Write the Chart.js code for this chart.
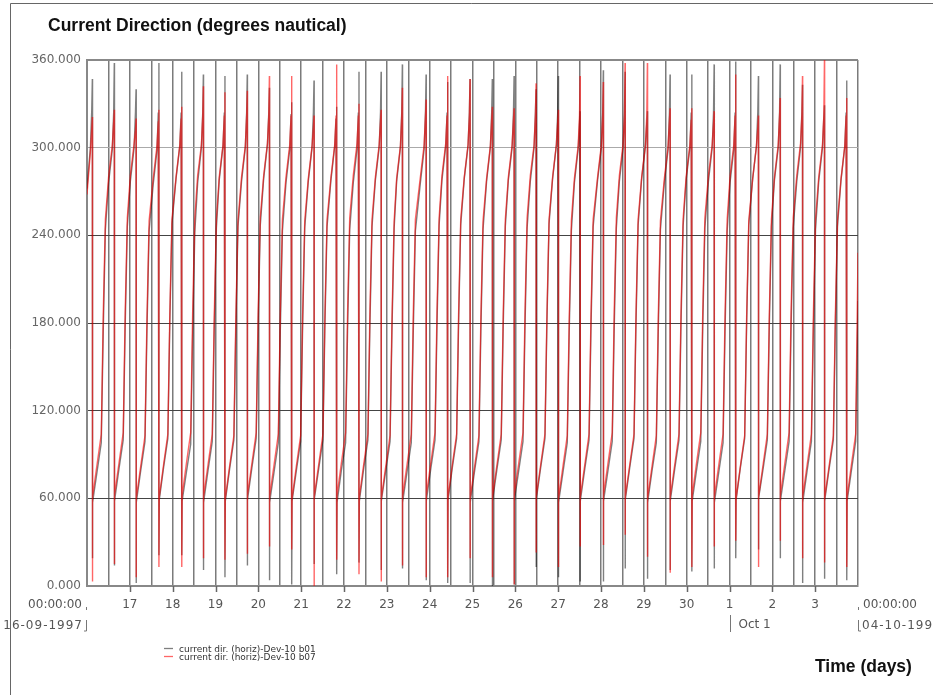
<!DOCTYPE html>
<html>
<head>
<meta charset="utf-8">
<script src="https://cdn.jsdelivr.net/npm/chart.js@4.4.1/dist/chart.umd.min.js"></script>
<style>
  body { margin: 0; background: #fff; }
  canvas { display: block; }
</style>
</head>
<body>
<canvas id="dirChart" width="933" height="695"></canvas>
<script>
// hours since 16-09-1997 00:00:00, one row per tidal cycle (wrap 360 -> 0 at row start)
const hours = [
  0, 1.9, 2.65, 3.0,
  3.0, 3.2, 5.6, 8.0, 9.1, 10.3, 12.1, 14.2, 14.95, 15.3,
  15.3, 15.5, 17.9, 20.3, 21.4, 22.6, 24.3, 26.4, 27.15, 27.5,
  27.5, 27.7, 30.1, 32.5, 33.6, 34.8, 37.1, 39.2, 39.95, 40.3,
  40.3, 40.5, 42.9, 45.3, 46.4, 47.6, 49.9, 52.0, 52.75, 53.1,
  53.1, 53.3, 55.7, 58.1, 59.2, 60.4, 62.0, 64.1, 64.85, 65.2,
  65.2, 65.4, 67.8, 70.2, 71.3, 72.5, 74.1, 76.2, 76.95, 77.3,
  77.3, 77.5, 79.9, 82.3, 83.4, 84.6, 86.6, 88.7, 89.45, 89.8,
  89.8, 90.0, 92.4, 94.8, 95.9, 97.1, 99.0, 101.1, 101.85, 102.2,
  102.2, 102.4, 104.8, 107.2, 108.3, 109.5, 111.5, 113.6, 114.35, 114.7,
  114.7, 114.9, 117.3, 119.7, 120.8, 122.0, 124.0, 126.1, 126.85, 127.2,
  127.2, 127.4, 129.8, 132.2, 133.3, 134.5, 136.7, 138.8, 139.55, 139.9,
  139.9, 140.1, 142.5, 144.9, 146.0, 147.2, 149.2, 151.3, 152.05, 152.4,
  152.4, 152.6, 155.0, 157.4, 158.5, 159.7, 161.6, 163.7, 164.45, 164.8,
  164.8, 165.0, 167.4, 169.8, 170.9, 172.1, 173.5, 175.6, 176.35, 176.7,
  176.7, 176.9, 179.3, 181.7, 182.8, 184.0, 186.8, 188.9, 189.65, 190.0,
  190.0, 190.2, 192.6, 195.0, 196.1, 197.3, 198.9, 201.0, 201.75, 202.1,
  202.1, 202.3, 204.7, 207.1, 208.2, 209.4, 211.4, 213.5, 214.25, 214.6,
  214.6, 214.8, 217.2, 219.6, 220.7, 221.9, 223.9, 226.0, 226.75, 227.1,
  227.1, 227.3, 229.7, 232.1, 233.2, 234.4, 236.1, 238.2, 238.95, 239.3,
  239.3, 239.5, 241.9, 244.3, 245.4, 246.6, 248.4, 250.5, 251.25, 251.6,
  251.6, 251.8, 254.2, 256.6, 257.7, 258.9, 260.9, 263.0, 263.75, 264.1,
  264.1, 264.3, 266.7, 269.1, 270.2, 271.4, 273.1, 275.2, 275.95, 276.3,
  276.3, 276.5, 278.9, 281.3, 282.4, 283.6, 286.1, 288.2, 288.95, 289.3,
  289.3, 289.5, 291.9, 294.3, 295.4, 296.6, 298.3, 300.4, 301.15, 301.5,
  301.5, 301.7, 304.1, 306.5, 307.6, 308.8, 310.8, 312.9, 313.65, 314.0,
  314.0, 314.2, 316.6, 319.0, 320.1, 321.3, 323.5, 325.6, 326.35, 326.7,
  326.7, 326.9, 329.3, 331.7, 332.8, 334.0, 335.7, 337.8, 338.55, 338.9,
  338.9, 339.1, 341.5, 343.9, 345.0, 346.2, 348.2, 350.3, 351.05, 351.4,
  351.4, 351.6, 354.0, 356.4, 357.5, 358.7, 360.3, 362.4, 363.15, 363.5,
  363.5, 363.7, 366.1, 368.5, 369.6, 370.8, 373.0, 375.1, 375.85, 376.2,
  376.2, 376.4, 378.8, 381.2, 382.3, 383.5, 385.2, 387.3, 388.05, 388.4,
  388.4, 388.6, 391.0, 393.4, 394.5, 395.7, 397.7, 399.8, 400.55, 400.9,
  400.9, 401.1, 403.5, 405.9, 407.0, 408.2, 410.0, 412.1, 412.85, 413.2,
  413.2, 413.4, 415.8, 418.2, 419.3, 420.5, 422.5, 424.6, 425.35, 425.7,
  425.7, 425.9, 428.3, 430.7, 432.0
];

// current dir. (horiz)-Dev-10 b01 (degrees)
const dirB01 = [
  272, 300, 325, 347,
  19, 57, 78, 98, 174, 244, 276, 299, 324, 358,
  14, 58, 80, 100, 178, 246, 277, 300, 324, 340,
  2, 57, 79, 99, 175, 243, 275, 298, 324, 358,
  21, 59, 81, 101, 180, 248, 279, 301, 324, 352,
  21, 58, 78, 97, 172, 242, 276, 300, 324, 350,
  11, 57, 79, 99, 176, 245, 278, 301, 324, 349,
  6, 58, 80, 100, 177, 246, 277, 300, 324, 350,
  14, 59, 81, 101, 179, 247, 279, 302, 324, 341,
  4, 57, 78, 98, 174, 243, 276, 299, 323, 331,
  1, 58, 79, 99, 176, 245, 277, 300, 324, 346,
  15, 59, 80, 100, 178, 246, 278, 301, 320, 328,
  8, 57, 79, 98, 175, 244, 276, 299, 324, 352,
  16, 58, 80, 100, 177, 246, 278, 300, 324, 352,
  11, 58, 79, 99, 176, 245, 277, 300, 324, 357,
  12, 57, 78, 98, 173, 243, 276, 299, 324, 350,
  4, 58, 80, 100, 178, 247, 278, 301, 324, 345,
  2, 59, 81, 101, 179, 247, 279, 301, 324, 347,
  2, 57, 79, 99, 175, 244, 277, 300, 324, 347,
  0, 58, 80, 100, 177, 246, 278, 300, 324, 349,
  1, 58, 79, 99, 176, 245, 277, 300, 324, 340,
  13, 59, 81, 101, 180, 248, 279, 302, 324, 349,
  6, 57, 78, 98, 174, 243, 276, 299, 317, 325,
  3, 58, 80, 100, 177, 246, 278, 300, 324, 353,
  3, 58, 79, 99, 176, 245, 277, 300, 324, 352,
  12, 59, 81, 101, 179, 247, 279, 301, 317, 325,
  5, 57, 79, 98, 175, 244, 276, 299, 324, 350,
  11, 58, 80, 100, 177, 246, 278, 300, 324, 350,
  10, 58, 79, 99, 176, 245, 277, 300, 324, 357,
  12, 57, 78, 98, 174, 243, 276, 299, 324, 359,
  19, 59, 81, 101, 179, 247, 279, 301, 324, 349,
  25, 60, 80, 100, 177, 246, 278, 300, 324, 357,
  19, 58, 79, 99, 176, 245, 277, 300, 324, 343,
  2, 57, 79, 99, 175, 244, 277, 300, 321, 329,
  5, 58, 80, 100, 178, 246, 278, 301, 324, 346,
  4, 58, 79, 99, 195
];

// current dir. (horiz)-Dev-10 b07 (degrees)
const dirB07 = [
  268, 297, 313, 321,
  3, 61, 83, 104, 186, 251, 280, 302, 318, 326,
  15, 62, 84, 105, 188, 252, 281, 303, 312, 320,
  6, 60, 82, 103, 184, 250, 279, 301, 318, 326,
  13, 61, 83, 104, 186, 251, 280, 302, 320, 328,
  13, 62, 84, 105, 187, 252, 281, 302, 322, 342,
  19, 61, 83, 104, 185, 251, 280, 302, 322, 338,
  18, 60, 82, 103, 184, 250, 280, 301, 322, 339,
  22, 62, 84, 105, 188, 252, 281, 303, 322, 349,
  27, 61, 83, 104, 186, 251, 280, 302, 322, 349,
  25, 60, 82, 103, 185, 250, 279, 301, 314, 322,
  0, 61, 83, 104, 186, 251, 280, 302, 322, 357,
  18, 62, 84, 105, 187, 252, 281, 303, 322, 330,
  8, 61, 83, 104, 186, 251, 280, 302, 318, 326,
  3, 60, 82, 103, 184, 250, 279, 301, 322, 341,
  14, 61, 83, 104, 186, 251, 280, 302, 322, 333,
  6, 62, 84, 105, 188, 252, 281, 303, 322, 349,
  6, 61, 83, 104, 186, 251, 280, 302, 322, 347,
  19, 60, 82, 103, 185, 250, 279, 301, 320, 328,
  6, 61, 83, 104, 186, 251, 280, 302, 319, 327,
  1, 62, 84, 105, 187, 252, 281, 302, 322, 344,
  23, 61, 83, 104, 186, 251, 280, 302, 318, 326,
  13, 60, 82, 103, 184, 250, 279, 301, 322, 349,
  27, 61, 83, 104, 186, 251, 280, 302, 322, 345,
  28, 62, 84, 105, 188, 252, 281, 303, 322, 358,
  35, 61, 83, 104, 186, 251, 280, 302, 322, 358,
  20, 60, 82, 103, 185, 250, 279, 301, 319, 327,
  9, 61, 83, 104, 186, 251, 280, 302, 319, 327,
  13, 62, 84, 105, 187, 252, 281, 302, 317, 325,
  27, 61, 83, 104, 186, 251, 280, 302, 322, 350,
  31, 60, 82, 103, 184, 250, 279, 301, 314, 322,
  13, 61, 83, 104, 186, 251, 280, 302, 322, 334,
  31, 62, 84, 105, 188, 252, 281, 303, 322, 349,
  19, 61, 83, 104, 186, 251, 280, 302, 322, 360,
  16, 60, 82, 103, 185, 250, 279, 301, 322, 334,
  13, 61, 83, 104, 228
];

// day labels at each midnight from 17-09 to 03-10
const dayLabels = ['17', '18', '19', '20', '21', '22', '23', '24', '25', '26', '27', '28', '29', '30', '1', '2', '3'];
const startTime = '00:00:00';
const startDate = '16-09-1997';
const endTime = '00:00:00';
const endDate = '04-10-1997';
const monthMark = 'Oct 1';
const monthMarkHour = 360;
const seriesNames = ['current dir. (horiz)-Dev-10 b01', 'current dir. (horiz)-Dev-10 b07'];

const BLACK = 'rgba(0,0,0,0.5)';
const RED = 'rgba(255,0,0,0.6)';
const TICK_FONT = '"DejaVu Sans", sans-serif';

// title, axis name, date brackets, legend
const extras = {
  id: 'extras',
  afterDraw(chart) {
    const ctx = chart.ctx;
    const x = chart.scales.x;
    const area = chart.chartArea;
    const x0 = x.getPixelForValue(0);
    const x1 = x.getPixelForValue(432);
    ctx.save();

    // outer frame
    ctx.strokeStyle = '#666';
    ctx.lineWidth = 1;
    ctx.beginPath();
    ctx.moveTo(10.5, 695);
    ctx.lineTo(10.5, 3.5);
    ctx.lineTo(933, 3.5);
    ctx.stroke();

    ctx.fillStyle = '#111';
    ctx.font = 'bold 17.5px "Liberation Sans", Arial, sans-serif';
    ctx.textBaseline = 'alphabetic';
    ctx.textAlign = 'left';
    ctx.fillText('Current Direction (degrees nautical)', 48, 30.5);
    ctx.fillText('Time (days)', 815, 672);

    // day tick marks below the axis
    ctx.strokeStyle = '#666';
    ctx.lineWidth = 1.5;
    for (let h = 24; h < 432; h += 24) {
      const px = Math.round(x.getPixelForValue(h)) + 0.5;
      ctx.beginPath();
      ctx.moveTo(px, area.bottom);
      ctx.lineTo(px, area.bottom + 6);
      ctx.stroke();
    }

    // start / end date labels with brackets
    ctx.fillStyle = '#555';
    ctx.font = '12px ' + TICK_FONT;
    ctx.textBaseline = 'middle';
    ctx.textAlign = 'right';
    ctx.fillText(startTime, x0 - 5, 605);
    ctx.letterSpacing = '1px';
    ctx.fillText(startDate, x0 - 4, 626);
    ctx.textAlign = 'left';
    ctx.letterSpacing = '0px';
    ctx.fillText(endTime, x1 + 5, 605);
    ctx.letterSpacing = '1px';
    ctx.fillText(endDate, x1 + 4, 626);
    ctx.letterSpacing = '0px';

    ctx.strokeStyle = '#777';
    ctx.lineWidth = 1;
    [[x0 - 0.5, -2.5], [x1 + 0.5, 2.5]].forEach(([bx, dir]) => {
      ctx.beginPath();
      ctx.moveTo(bx, 607);
      ctx.lineTo(bx, 610);
      ctx.moveTo(bx, 620);
      ctx.lineTo(bx, 631);
      ctx.lineTo(bx + dir, 631);
      ctx.stroke();
    });

    // month marker
    const mx = Math.round(x.getPixelForValue(monthMarkHour)) + 0.5;
    ctx.beginPath();
    ctx.moveTo(mx, 615);
    ctx.lineTo(mx, 632);
    ctx.stroke();
    ctx.fillText(monthMark, mx + 8, 625);

    // legend
    ctx.lineWidth = 1.3;
    ctx.strokeStyle = BLACK;
    ctx.beginPath();
    ctx.moveTo(164, 648.5);
    ctx.lineTo(173, 648.5);
    ctx.stroke();
    ctx.strokeStyle = RED;
    ctx.beginPath();
    ctx.moveTo(164, 656.5);
    ctx.lineTo(173, 656.5);
    ctx.stroke();
    ctx.fillStyle = '#333';
    ctx.font = '9px ' + TICK_FONT;
    ctx.fillText(seriesNames[0], 179, 650);
    ctx.fillText(seriesNames[1], 179, 658);

    ctx.restore();
  }
};

const ctx = document.getElementById('dirChart').getContext('2d');

new Chart(ctx, {
  type: 'line',
  data: {
    datasets: [
      {
        label: seriesNames[0],
        data: hours.map((h, i) => ({ x: h, y: dirB01[i] })),
        borderColor: BLACK,
        borderWidth: 1.4,
        pointRadius: 0,
        tension: 0,
        order: 1
      },
      {
        label: seriesNames[1],
        data: hours.map((h, i) => ({ x: h, y: dirB07[i] })),
        borderColor: RED,
        borderWidth: 1.4,
        pointRadius: 0,
        tension: 0,
        order: 0
      }
    ]
  },
  options: {
    responsive: false,
    animation: false,
    events: [],
    layout: { padding: { left: 0, top: 60, right: 75, bottom: 0 } },
    plugins: {
      legend: { display: false },
      tooltip: { enabled: false },
      title: { display: false }
    },
    scales: {
      x: {
        type: 'linear',
        min: 0,
        max: 432,
        afterFit(scale) { scale.height = 109; },
        border: { display: true, color: '#888', width: 2 },
        grid: {
          drawTicks: false,
          color: 'rgba(100,100,100,0.85)',
          lineWidth: 1.5
        },
        ticks: {
          stepSize: 12,
          maxTicksLimit: 100,
          autoSkip: false,
          maxRotation: 0,
          padding: 12,
          color: '#555',
          font: { family: TICK_FONT, size: 12 },
          callback(value) {
            if (value % 24 === 0 && value > 0 && value < 432) return dayLabels[value / 24 - 1];
            return '';
          }
        }
      },
      y: {
        min: 0,
        max: 360,
        afterFit(scale) { scale.width = 87; },
        border: { display: true, color: '#888', width: 2 },
        grid: {
          drawTicks: false,
          color(c) {
            const v = c.tick.value;
            if (v === 0 || v === 360) return '#888';
            if (v === 300) return '#aaa';
            return '#444';
          },
          lineWidth(c) {
            const v = c.tick.value;
            return (v === 0 || v === 360) ? 2 : 1;
          }
        },
        ticks: {
          stepSize: 60,
          padding: 6,
          color: '#666',
          font: { family: TICK_FONT, size: 12 },
          callback(value) { return value.toFixed(3); }
        }
      }
    }
  },
  plugins: [extras]
});
</script>
</body>
</html>
